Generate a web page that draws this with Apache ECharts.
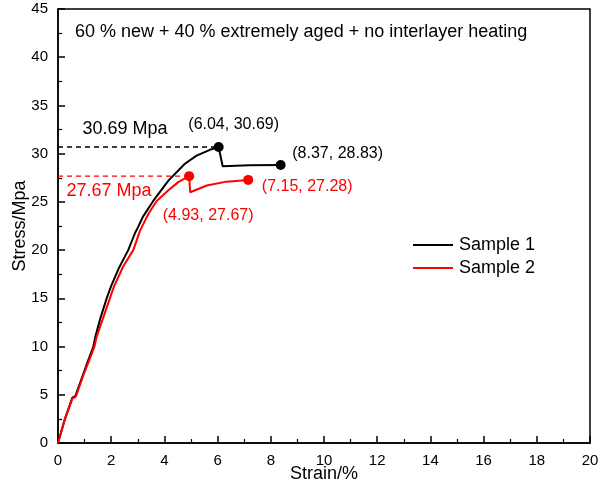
<!DOCTYPE html>
<html><head><meta charset="utf-8">
<script src="https://cdn.jsdelivr.net/npm/echarts@6/dist/echarts.min.js"></script>
<style>html,body{margin:0;padding:0;background:#fff}#c{width:603px;height:486px}</style>
</head><body><div id="c"></div>
<script>
var sample1 = [[0,0],[0.25,2.4],[0.54,4.7],[0.65,4.85],[0.93,7.0],[1.1,8.3],[1.33,10.0],[1.4,11.0],[1.6,13.0],[1.83,15.0],[2.0,16.3],[2.3,18.2],[2.64,20.0],[2.9,21.8],[2.96,22.1],[3.2,23.5],[3.58,25.1],[4.15,27.2],[4.77,28.95],[5.21,29.8],[5.71,30.4],[6.04,30.69],[6.19,28.7],[7.2,28.8],[8.37,28.83]];
var sample2 = [[0,0],[0.25,2.4],[0.54,4.6],[0.67,4.8],[0.95,7.0],[1.12,8.2],[1.37,10.0],[1.45,11.0],[1.7,13.0],[1.95,15.0],[2.1,16.2],[2.45,18.3],[2.83,20.0],[3.08,22.0],[3.4,23.77],[3.71,25.1],[4.15,26.2],[4.52,27.05],[4.93,27.67],[4.97,26.0],[5.59,26.7],[6.34,27.1],[7.15,27.28]];
var points1 = [[6.04,30.69],[8.37,28.83]];
var points2 = [[4.93,27.67],[7.15,27.28]];
var peak1 = 30.69, peak2 = 27.67;
var seriesNames = ['Sample 1','Sample 2'];
var titleText = '60 % new + 40 % extremely aged + no interlayer heating';
var font = '"Liberation Sans", Arial, sans-serif';

var offs1 = [[15,-22],[57,-11]];
var offs2 = [[19,39],[59,7]];
function pts(arr, offs){
  return arr.map(function(v,i){ return {value:v, label:{offset:offs[i]}}; });
}
function fmt(p){ return '('+p.value[0].toFixed(2)+', '+p.value[1].toFixed(2)+')'; }

var chart = echarts.init(document.getElementById('c'));
chart.setOption({
  animation:false,
  backgroundColor:'#fff',
  grid:{left:58,right:13,top:9,bottom:43,show:true,borderColor:'#000',borderWidth:1.5,containLabel:false,outerBoundsMode:'none'},
  graphic:[{type:'text',left:75,top:23,style:{text:titleText,font:'18px '+font,fill:'#000'}}],
  legend:{left:413,top:236,padding:0,orient:'vertical',itemWidth:40,itemHeight:2,itemGap:5,icon:'rect',
    data:seriesNames,textStyle:{fontFamily:font,fontSize:18,lineHeight:18,color:'#000',padding:[0,0,0,1]}},
  xAxis:{type:'value',min:0,max:20,interval:2,name:'Strain/%',nameLocation:'middle',nameGap:22,nameMoveOverlap:false,
    nameTextStyle:{fontFamily:font,fontSize:18,color:'#000'},
    axisLine:{lineStyle:{color:'#000',width:1.5}},
    axisTick:{inside:true,length:7,lineStyle:{width:1.5}},
    minorTick:{show:true,splitNumber:2,length:4,lineStyle:{color:'#000',width:1.2}},
    splitLine:{show:false},
    axisLabel:{fontFamily:font,fontSize:15,color:'#000',margin:10}},
  yAxis:{type:'value',min:0,max:45,interval:5,name:'Stress/Mpa',nameLocation:'middle',nameGap:29,nameMoveOverlap:false,
    nameTextStyle:{fontFamily:font,fontSize:18,color:'#000'},
    axisLine:{lineStyle:{color:'#000',width:1.5}},
    axisTick:{inside:true,length:7,lineStyle:{width:1.5}},
    minorTick:{show:true,splitNumber:2,length:4,lineStyle:{color:'#000',width:1.2}},
    splitLine:{show:false},
    axisLabel:{fontFamily:font,fontSize:15,color:'#000',margin:10}},
  series:[
    {name:seriesNames[0],type:'line',data:sample1,showSymbol:false,symbol:'none',lineStyle:{color:'#000',width:2},itemStyle:{color:'#000'},z:3},
    {name:seriesNames[1],type:'line',data:sample2,showSymbol:false,symbol:'none',lineStyle:{color:'#ff0000',width:2},itemStyle:{color:'#ff0000'},z:3},
    {type:'line',data:[[0,peak1],[points1[0][0],peak1]],symbol:'none',lineStyle:{color:'#000',width:1.3,type:[5,4]},z:2},
    {type:'line',data:[[0,peak2],[points2[0][0],peak2]],symbol:'none',lineStyle:{color:'#ff0000',width:1.3,type:[5,4]},z:2},
    {type:'scatter',data:pts(points1,offs1),symbolSize:10,itemStyle:{color:'#000',opacity:1},z:4,
      label:{show:true,position:'inside',fontFamily:font,fontSize:16,color:'#000',formatter:fmt}},
    {type:'scatter',data:pts(points2,offs2),symbolSize:10,itemStyle:{color:'#ff0000',opacity:1},z:4,
      label:{show:true,position:'inside',fontFamily:font,fontSize:16,color:'#ff0000',formatter:fmt}},
    {type:'scatter',data:[[0,peak1]],symbolSize:0,silent:true,itemStyle:{opacity:1},
      label:{show:true,position:'inside',offset:[67,-18],formatter:peak1.toFixed(2)+' Mpa',fontFamily:font,fontSize:18,color:'#000'}},
    {type:'scatter',data:[[0,peak2]],symbolSize:0,silent:true,itemStyle:{opacity:1},
      label:{show:true,position:'inside',offset:[51,15],formatter:peak2.toFixed(2)+' Mpa',fontFamily:font,fontSize:18,color:'#ff0000'}}
  ]
});
</script></body></html>
